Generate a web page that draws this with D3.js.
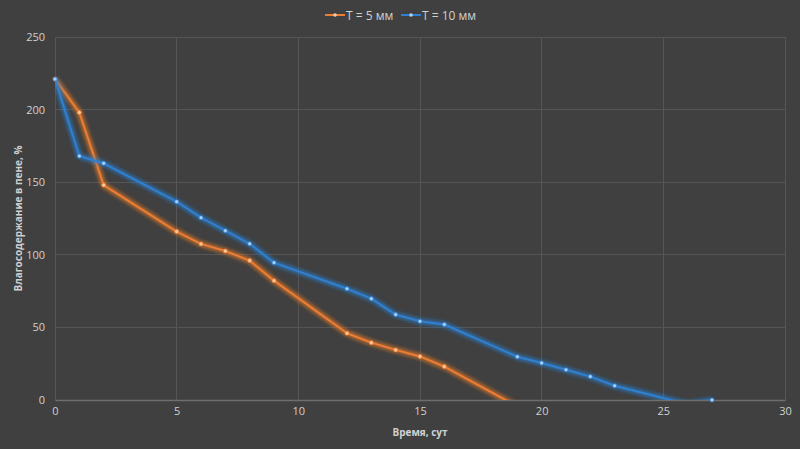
<!DOCTYPE html>
<html><head><meta charset="utf-8">
<script src="https://cdn.jsdelivr.net/npm/d3@7"></script>
<style>html,body{margin:0;padding:0;background:#404040;}svg{display:block;}</style>
</head><body>
<svg id="c" width="800" height="449"></svg>
<script>
const seriesNames = ["T = 5 мм", "T = 10 мм"];
const seriesColors = ["#ed7d31", "#2f80d0"];
const xs5 = [0, 1, 2, 5, 6, 7, 8, 9, 12, 13, 14, 15, 16, 19];
const ys5 = [221, 198, 148, 116, 107.5, 102.6, 96, 82.2, 46, 39.5, 34.5, 30, 23, -4.4];
const xs10 = [0, 1, 2, 5, 6, 7, 8, 9, 12, 13, 14, 15, 16, 19, 20, 21, 22, 23, 26, 27];
const ys10 = [221, 168, 163, 136.6, 125.6, 116.6, 107.6, 94.6, 76.6, 69.8, 58.8, 54.2, 52, 29.8, 25.5, 20.8, 16.1, 9.8, -2.9, 0];
const xTicks = [0, 5, 10, 15, 20, 25, 30];
const yTicks = [0, 50, 100, 150, 200, 250];
const xTitle = "Время, сут";
const yTitle = "Влагосодержание в пене, %";

const svg = d3.select("#c");
const W = 800, H = 449;
const L = 55, R = 785, T = 37, B = 400;
const x = d3.scaleLinear().domain([0, 30]).range([L, R]);
const y = d3.scaleLinear().domain([0, 250]).range([B, T]);
const font = "'Open Sans', 'Liberation Sans', sans-serif";

const defs = svg.append("defs");
const glow = defs.append("filter").attr("id", "glow").attr("x", "-10%").attr("y", "-10%").attr("width", "120%").attr("height", "120%");
glow.append("feGaussianBlur").attr("in", "SourceGraphic").attr("stdDeviation", 2.2).attr("result", "b");
const m = glow.append("feMerge");
m.append("feMergeNode").attr("in", "b");
m.append("feMergeNode").attr("in", "b");
defs.append("clipPath").attr("id", "plotclip").append("rect")
  .attr("x", L).attr("y", T - 5).attr("width", R - L + 5).attr("height", B - T + 5);

// grid
svg.append("g").selectAll("line").data(yTicks.filter(d => d > 0)).join("line")
  .attr("x1", L).attr("x2", R).attr("y1", d => y(d)).attr("y2", d => y(d))
  .attr("stroke", "#555555").attr("stroke-width", 1).attr("shape-rendering", "crispEdges");
svg.append("g").selectAll("line").data(xTicks.filter(d => d > 0)).join("line")
  .attr("y1", T).attr("y2", B).attr("x1", d => x(d)).attr("x2", d => x(d))
  .attr("stroke", "#555555").attr("stroke-width", 1).attr("shape-rendering", "crispEdges");

// axes
const xAxis = d3.axisBottom(x).tickValues(xTicks).tickSize(0).tickPadding(7);
const gx = svg.append("g").attr("transform", `translate(0,${B})`).call(xAxis);
gx.select(".domain").attr("stroke", "#6e6e6e").attr("stroke-width", 1.5);
gx.selectAll("text").attr("fill", "#d0d0d0").style("font-family", font).style("font-size", "11px");
const yAxis = d3.axisLeft(y).tickValues(yTicks).tickSize(0).tickPadding(10);
const gy = svg.append("g").attr("transform", `translate(${L},0)`).call(yAxis);
gy.select(".domain").attr("stroke", "#555555");
gy.selectAll("text").attr("fill", "#d0d0d0").style("font-family", font).style("font-size", "11px");

// titles
svg.append("text").attr("x", (L + R) / 2).attr("y", 436).attr("text-anchor", "middle")
  .attr("fill", "#d0d0d0").style("font-family", font).style("font-size", "10px").style("font-weight", "bold").text(xTitle);
svg.append("text").attr("transform", `translate(22,${(T + B) / 2}) rotate(-90)`).attr("text-anchor", "middle")
  .attr("fill", "#d0d0d0").style("font-family", font).style("font-size", "10px").style("font-weight", "bold").text(yTitle);

// series
const data = [
  xs5.map((v, i) => ({x: v, y: ys5[i]})),
  xs10.map((v, i) => ({x: v, y: ys10[i]}))
];
const line = d3.line().x(d => x(d.x)).y(d => y(d.y));
const plot = svg.append("g");
data.forEach((pts, i) => {
  const g = plot.append("g");
  g.append("path").datum(pts).attr("d", line).attr("fill", "none")
    .attr("stroke", seriesColors[i]).attr("stroke-width", 4).attr("stroke-opacity", 0.55)
    .attr("filter", "url(#glow)").attr("clip-path", "url(#plotclip)");
  g.append("path").datum(pts).attr("d", line).attr("fill", "none")
    .attr("stroke", seriesColors[i]).attr("stroke-width", 2).attr("stroke-linejoin", "round")
    .attr("clip-path", "url(#plotclip)");
});
data.forEach((pts, i) => {
  plot.append("g").selectAll("circle").data(pts.filter(d => d.y >= 0)).join("circle")
    .attr("cx", d => x(d.x)).attr("cy", d => y(d.y)).attr("r", 2)
    .attr("fill", i === 0 ? "#ffc9a0" : "#a8d2ff").attr("stroke", seriesColors[i]).attr("stroke-width", 0.8);
});

// legend
const leg = svg.append("g");
const legX = [325, 401];
seriesNames.forEach((n, i) => {
  const lx = legX[i];
  leg.append("line").attr("x1", lx).attr("x2", lx + 20).attr("y1", 15).attr("y2", 15)
    .attr("stroke", seriesColors[i]).attr("stroke-width", 2);
  leg.append("circle").attr("cx", lx + 10).attr("cy", 15).attr("r", 1.8)
    .attr("fill", i === 0 ? "#ffc9a0" : "#a8d2ff");
  leg.append("text").attr("x", lx + 21).attr("y", 19.5).attr("fill", "#d0d0d0")
    .style("font-family", font).style("font-size", "12px").text(n);
});
</script>
</body></html>
